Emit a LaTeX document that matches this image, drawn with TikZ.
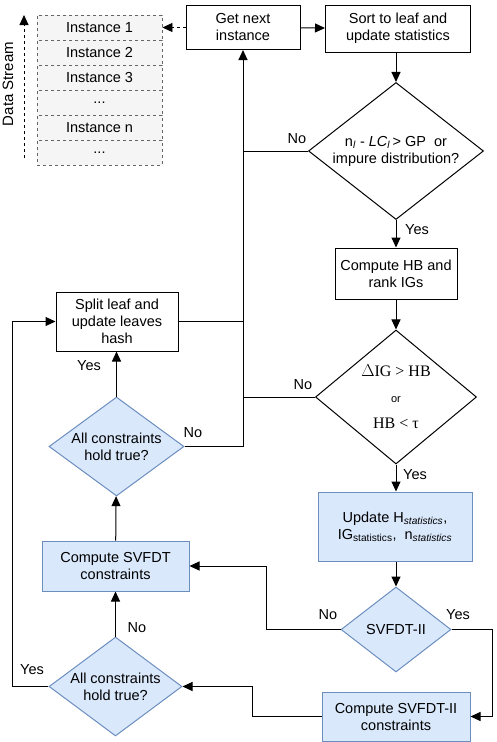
\documentclass[tikz,border=0pt]{standalone}
\usepackage{fontspec}
\setmainfont{Liberation Sans}
\newfontfamily\timesfont{Liberation Serif}
\usepackage{tikz}
\usetikzlibrary{shapes.geometric,arrows.meta}
\definecolor{bluefill}{HTML}{DAE8FC}
\definecolor{blueline}{HTML}{6C8EBF}
\definecolor{grayfill}{HTML}{F5F5F5}
\definecolor{grayline}{HTML}{666666}

\begin{document}
\begin{tikzpicture}[x=1pt,y=-1pt,line width=1pt,
  every node/.style={font=\fontsize{14.5}{17}\selectfont},
  box/.style={draw,rectangle,align=center,inner sep=1pt},
  bluebox/.style={box,draw=blueline,fill=bluefill},
  dia/.style={draw,diamond,align=center,inner sep=0pt},
  bluedia/.style={dia,draw=blueline,fill=bluefill},
  instbox/.style={draw=grayline,fill=grayfill,dashed,line width=0.8pt,
    minimum width=125pt,minimum height=25pt,inner sep=0pt},
  arr/.style={-{Triangle[length=10pt,width=9pt]}},
  lbl/.style={inner sep=0pt}]
\useasboundingbox (0,0) rectangle (496,742);

% data stream
\foreach \i/\t in {1/Instance 1,2/Instance 2,3/Instance 3,4/{..{}.},5/Instance n,6/{..{}.}}
  \node[instbox] (inst\i) at (99.5,2.5+25*\i) {\t};
\coordinate (ds0) at (24,158);
\coordinate (ds1) at (24,15);
\draw[arr,dashed,line width=0.8pt] (ds0) -- (ds1);
\node[lbl,rotate=90,font=\fontsize{15}{17}\selectfont] (dslabel) at (8,84) {Data Stream};

% right column
\node[box,minimum width=114pt,minimum height=44pt] (getnext) at (243,27.5) {Get next\\instance};
\node[box,minimum width=145pt,minimum height=47pt] (sortleaf) at (398,28.5) {Sort to leaf and\\update statistics};
\node[dia,minimum width=175pt,minimum height=137pt,aspect=1.28] (dia1) at (396,151)
  {n\textsubscript{\textit{l}} - \textit{LC\textsubscript{l}}\,> GP~ or\\impure distribution?};
\node[box,minimum width=122pt,minimum height=51pt] (hb) at (396,273.5) {Compute HB and\\rank IGs};
\node[dia,minimum width=161pt,minimum height=134pt,aspect=1.2] (dia2) at (396,397)
  {{\timesfont\fontsize{16}{18}\selectfont $\Delta$IG > HB}\\[9pt]{\fontsize{11}{13}\selectfont or}\\[9pt]{\timesfont\fontsize{16}{18}\selectfont HB < τ}};
\node[bluebox,minimum width=154pt,minimum height=69pt] (upd) at (395,526.5)
  {Update H\textsubscript{\textit{statistics}},\\IG\textsubscript{statistics},~ n\textsubscript{\textit{statistics}}};
\node[bluedia,minimum width=110pt,minimum height=85pt,aspect=1.3] (svII) at (396,629.5) {SVFDT-II};
\node[bluebox,minimum width=148pt,minimum height=49pt] (cII) at (396,716.5) {Compute SVFDT-II\\constraints};

% left column
\node[box,minimum width=122pt,minimum height=59pt] (split) at (117,321.5) {Split leaf and\\update leaves\\hash};
\node[bluedia,minimum width=135pt,minimum height=99pt,aspect=1.36] (ac1) at (116.5,446.5) {All constraints\\hold true?};
\node[bluebox,minimum width=147pt,minimum height=50pt] (csv) at (115.5,566) {Compute SVFDT\\constraints};
\node[bluedia,minimum width=133pt,minimum height=99pt,aspect=1.34] (ac2) at (115.5,686.5) {All constraints\\hold true?};

% connectors
\coordinate (trunk) at (243,446.5);
\coordinate (noup) at (266,629.5);
\coordinate (yesright) at (492,629.5);
\coordinate (backleft) at (252,716.5);
\coordinate (farleft) at (12,686.5);
\draw[arr,dashed,line width=0.8pt] (getnext) -- (inst1);
\draw[arr] (getnext) -- (sortleaf);
\draw[arr] (sortleaf.south -| dia1) -- (dia1);
\draw[arr] (dia1) -- (hb);
\draw[arr] (hb) -- (dia2);
\draw[arr] (dia2) -- (upd.north -| dia2);
\draw[arr] (upd.south -| svII) -- (svII);
\draw[arr] (svII) -- (noup) |- (csv);
\draw[arr] (svII) -- (yesright) |- (cII);
\draw[arr] (cII) -| (backleft) |- (ac2);
\draw[arr] (ac2) -- (csv);
\draw[arr] (csv) -- (ac1);
\draw[arr] (ac1) -- (split.south -| ac1);
\draw[arr] (ac2) -- (farleft) |- (split);
\draw[arr] (ac1) -- (trunk) -- (getnext);
\draw (split) -- (split -| trunk);
\draw (dia1) -- (dia1 -| trunk);
\draw (dia2) -- (dia2 -| trunk);

% labels
\node[lbl] (no1) at (297,139) {No};
\node[lbl] (yes1) at (417,230) {Yes};
\node[lbl] (no2) at (303,385) {No};
\node[lbl] (yes2) at (415,475) {Yes};
\node[lbl] (no3) at (328,615) {No};
\node[lbl] (yes3) at (458,615) {Yes};
\node[lbl] (no4) at (193,433) {No};
\node[lbl] (yes4) at (89,366) {Yes};
\node[lbl] (no5) at (137,628) {No};
\node[lbl] (yes5) at (32,670) {Yes};
\end{tikzpicture}
\end{document}
